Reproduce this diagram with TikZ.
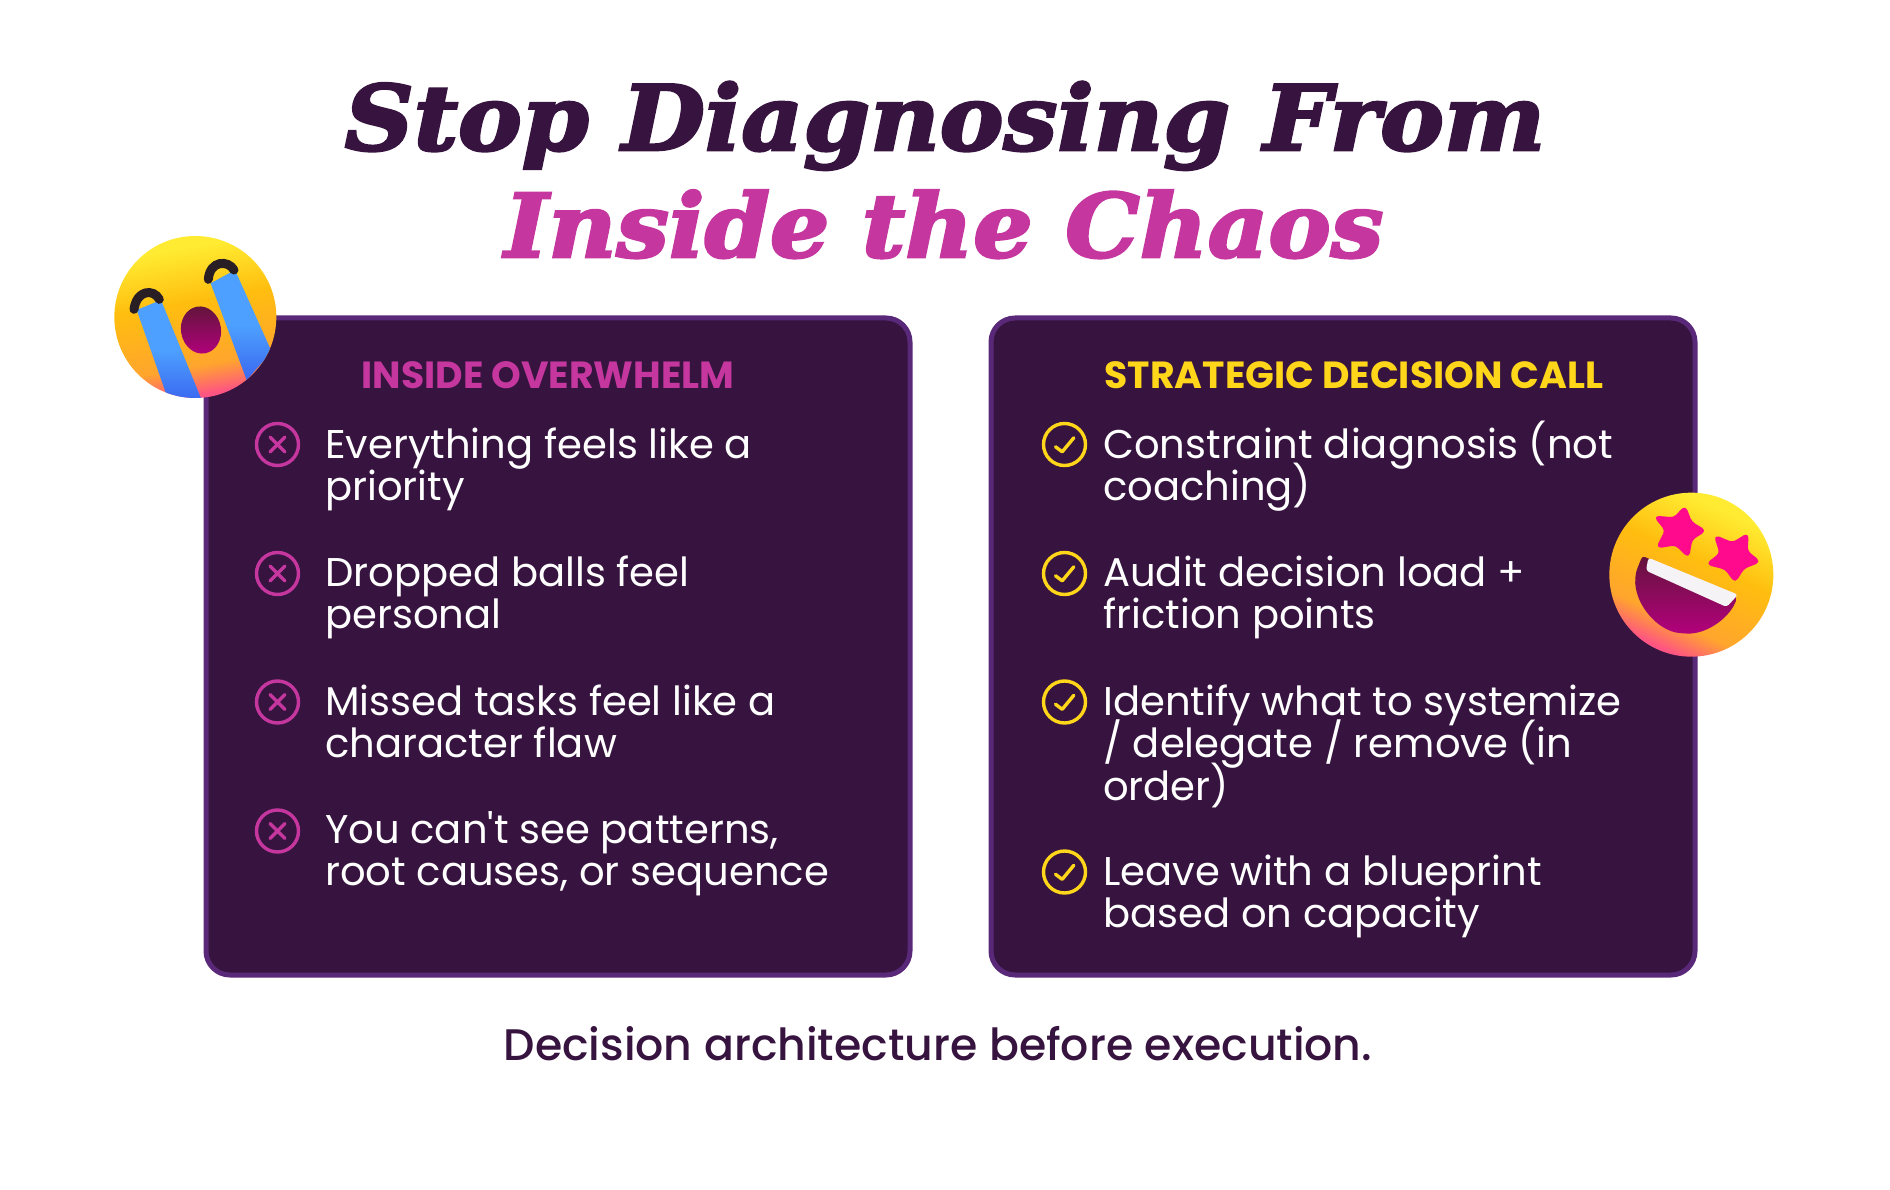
\documentclass[tikz,border=0pt]{standalone}
\usepackage{fontspec}
\setmainfont{Poppins}
\newfontfamily\itemfont{Poppins}
\newfontfamily\titlefont[FakeStretch=1.063,FakeBold=3]{DejaVu Serif}
\newfontfamily\footfont{Poppins Medium}
\usetikzlibrary{positioning}
\definecolor{darkplum}{RGB}{55,20,63}
\definecolor{panelborder}{RGB}{90,40,120}
\definecolor{hotorchid}{RGB}{197,55,159}
\definecolor{brightyellow}{RGB}{255,214,26}
\definecolor{tearblue}{RGB}{77,160,255}
\definecolor{teardeep}{RGB}{58,104,240}
\definecolor{mouthdark}{RGB}{100,20,60}
\definecolor{mouthpink}{RGB}{180,0,125}
\definecolor{browblack}{RGB}{40,30,35}
\definecolor{starpink}{RGB}{255,10,140}
\definecolor{faceyellow}{RGB}{255,236,50}
\definecolor{faceamber}{RGB}{255,190,15}
\definecolor{faceorange}{RGB}{255,165,45}
\definecolor{facepink}{RGB}{255,85,130}
\pgfdeclareverticalshading{faceshade}{100bp}{color(0bp)=(facepink); color(26bp)=(facepink); color(35bp)=(faceorange); color(55bp)=(faceamber); color(72bp)=(faceyellow); color(100bp)=(faceyellow)}
\tikzset{
    panelbox/.style={draw=panelborder, fill=darkplum, line width=5pt, rounded corners=24pt, minimum width=704pt, minimum height=657pt},
    itemtext/.style={anchor=north west, inner sep=0pt, text=white, align=left, font={\fontsize{40.1}{42.6}\selectfont\itemfont\lineskiplimit=-50pt}},
    headtext/.style={anchor=base, inner sep=0pt, font=\fontsize{37.8}{40}\selectfont\bfseries},
    crossicon/.style={draw=hotorchid, circle, line width=3.4pt, minimum size=42pt, inner sep=0pt,
        path picture={\draw[hotorchid, line width=3.4pt, line cap=round]
            (path picture bounding box.center) +(-7.5,-7.5) -- +(7.5,7.5) +(-7.5,7.5) -- +(7.5,-7.5);}},
    checkicon/.style={draw=brightyellow, circle, line width=3.4pt, minimum size=42pt, inner sep=0pt,
        path picture={\draw[brightyellow, line width=3.4pt, line cap=round, line join=round]
            (path picture bounding box.center) +(-9,2.3) -- +(-2.3,7.3) -- +(9.3,-6.7);}}
}
\newcommand{\topline}{\rule{0pt}{40pt}}
\begin{document}
\begin{tikzpicture}[x=1pt, y=-1pt]
    \useasboundingbox (0,0) rectangle (1890,1190);

    \node[anchor=base, inner sep=0pt, text=darkplum, font=\fontsize{90}{90}\selectfont\titlefont\bfseries\itshape] (titleone) at (945,150) {Stop Diagnosing From};
    \node[anchor=base, inner sep=0pt, text=hotorchid, font=\fontsize{88}{90}\selectfont\titlefont\bfseries\itshape] (titletwo) at (944,257) {Inside the Chaos};

    \node[panelbox] (leftpanel)  at (558,646.5)  {};
    \node[panelbox] (rightpanel) at (1343,646.5) {};

    \node[headtext, text=hotorchid]    (lefthead)  at (548,388)  {INSIDE OVERWHELM};
    \node[headtext, text=brightyellow] (righthead) at (1354,388) {STRATEGIC DECISION CALL};

    \node[crossicon] (cross1) at (277.5,444.5) {};
    \node[crossicon] (cross2) at (277.5,573.5) {};
    \node[crossicon] (cross3) at (277.5,702)   {};
    \node[crossicon] (cross4) at (277.5,831)   {};

    \node[checkicon] (check1) at (1064.5,444.5) {};
    \node[checkicon] (check2) at (1064.5,573.5) {};
    \node[checkicon] (check3) at (1064.5,702)   {};
    \node[checkicon] (check4) at (1064.5,872)   {};

    \node[itemtext] (lefttext1) at (325,418) {\topline Everything feels like a\\priority};
    \node[itemtext] (lefttext2) at (325,546) {\topline Dropped balls feel\\personal};
    \node[itemtext] (lefttext3) at (325,675) {\topline Missed tasks feel like a\\character flaw};
    \node[itemtext] (lefttext4) at (325,803) {\topline You can't see patterns,\\root causes, or sequence};

    \node[itemtext] (righttext1) at (1103,418) {\topline Constraint diagnosis (not\\coaching)};
    \node[itemtext] (righttext2) at (1103,546) {\topline Audit decision load +\\friction points};
    \node[itemtext] (righttext3) at (1103,675) {\topline Identify what to systemize\\/ delegate / remove (in\\order)};
    \node[itemtext] (righttext4) at (1103,845) {\topline Leave with a blueprint\\based on capacity};

    \node[anchor=base, inner sep=0pt, text=darkplum, font=\fontsize{44.2}{50}\selectfont\footfont] (footline) at (938,1060) {Decision architecture before execution.};

    \begin{scope}[shift={(90,210)}, scale=1/3]
        \shade[shading=faceshade, shading angle=10] (316,321) circle (243);
        \begin{scope}
            \clip (316,321) circle (243);
            \shade[top color=tearblue, bottom color=teardeep, middle color=tearblue] (140,300) -- (213,270) -- (335,570) -- (235,570) -- cycle;
            \shade[top color=tearblue, bottom color=teardeep, middle color=tearblue] (362,220) -- (435,180) -- (545,425) -- (470,510) -- cycle;
        \end{scope}
        \shade[shift={(333,360)}, rotate=10, top color=mouthdark, bottom color=mouthpink] (0,0) ellipse (60 and 71);
        \draw[browblack, line width=9pt, line cap=round] (132,298) .. controls (140,240) and (190,235) .. (208,268);
        \draw[browblack, line width=9pt, line cap=round] (355,208) .. controls (360,150) and (415,150) .. (432,180);
    \end{scope}

    \begin{scope}[shift={(1580,460)}, scale=1/3]
        \shade[shading=faceshade, shading angle=-25] (334,344) circle (246);
        \filldraw[starpink, line width=2pt, line join=round, rounded corners=4pt] (315,140) -- (333,187) -- (375,212) -- (334,238) -- (325,290) -- (287,253) -- (232,262) -- (258,211) -- (225,170) -- (283,175) -- cycle;
        \filldraw[starpink, line width=2pt, line join=round, rounded corners=4pt] (503,222) -- (500,274) -- (538,305) -- (490,324) -- (465,365) -- (437,326) -- (382,312) -- (422,280) -- (405,228) -- (458,250) -- cycle;
        \shade[top color=mouthdark, bottom color=mouthpink, rounded corners=3pt] (187,288) -- (472,408) .. controls (455,470) and (380,525) .. (310,520) .. controls (230,515) and (150,420) .. (170,330) -- cycle;
        \fill[white!95!darkplum, rounded corners=3pt] (205,293) -- (474,404) -- (440,441) -- (198,332) -- cycle;
    \end{scope}
\end{tikzpicture}
\end{document}
